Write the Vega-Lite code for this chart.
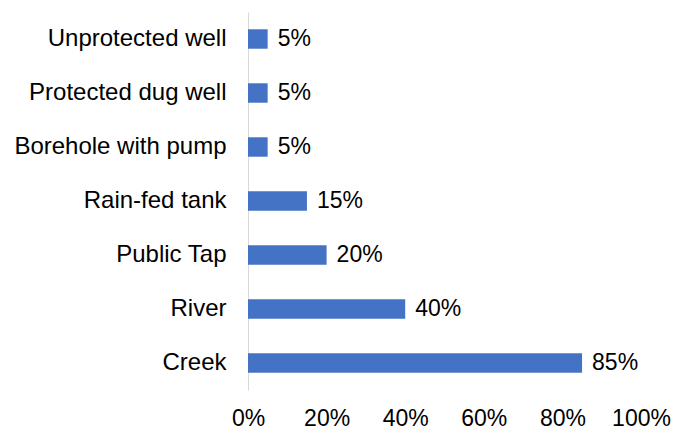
{
  "$schema": "https://vega.github.io/schema/vega-lite/v6.json",
  "width": 393,
  "height": 378,
  "autosize": {"type": "none"},
  "padding": {"left": 248, "top": 12, "right": 46, "bottom": 40},
  "background": "white",
  "config": {
    "view": {"stroke": null},
    "font": "Liberation Sans",
    "axis": {"grid": false, "ticks": false, "tickSize": 0, "labelFont": "Liberation Sans", "labelFontSize": 23, "labelColor": "#000000", "labelLimit": 400, "title": null}
  },
  "data": {
    "values": [
      {"source": "Unprotected well", "share": 0.05},
      {"source": "Protected dug well", "share": 0.05},
      {"source": "Borehole with pump", "share": 0.05},
      {"source": "Rain-fed tank", "share": 0.15},
      {"source": "Public Tap", "share": 0.20},
      {"source": "River", "share": 0.40},
      {"source": "Creek", "share": 0.85}
    ]
  },
  "encoding": {
    "y": {
      "field": "source", "type": "nominal", "sort": null,
      "scale": {"paddingInner": 0.64, "paddingOuter": 0.32},
      "axis": {"domain": true, "domainColor": "#d9d9d9", "domainWidth": 1, "labelPadding": 22, "labelFontSize": 24}
    },
    "x": {
      "field": "share", "type": "quantitative",
      "scale": {"domain": [0, 1], "nice": false},
      "axis": {"domain": false, "format": ".0%", "values": [0, 0.2, 0.4, 0.6, 0.8, 1], "labelPadding": 17, "labelFlush": false}
    }
  },
  "layer": [
    {"mark": {"type": "bar", "color": "#4472C4"}},
    {
      "mark": {"type": "text", "align": "left", "baseline": "middle", "dx": 10, "fontSize": 23, "color": "#000000"},
      "encoding": {"text": {"field": "share", "type": "quantitative", "format": ".0%"}}
    }
  ]
}
